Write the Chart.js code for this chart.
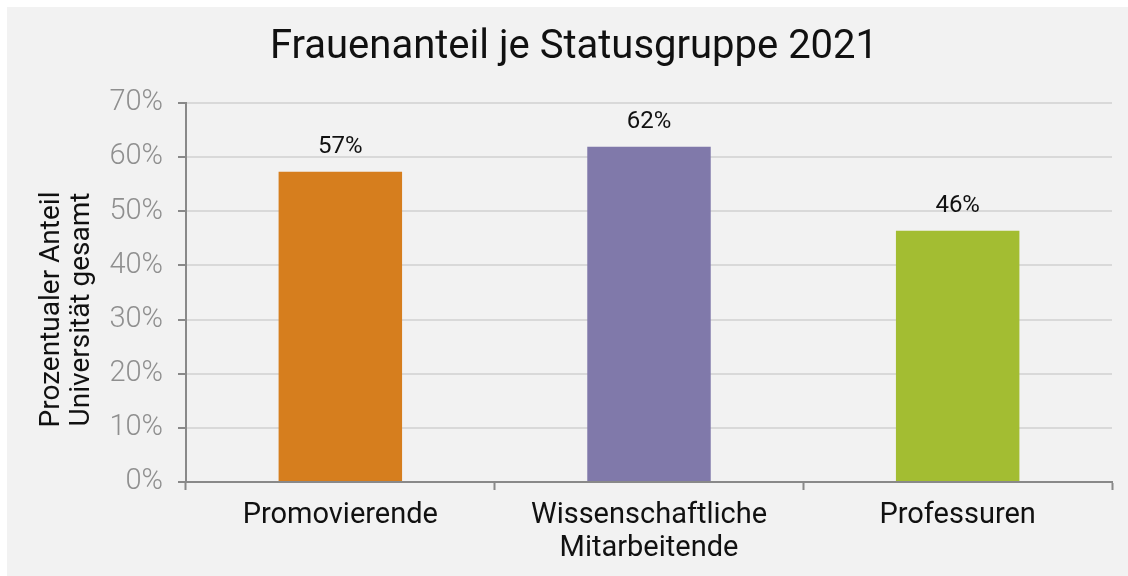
<!DOCTYPE html>
<html>
<head>
<meta charset="utf-8">
<script src="https://cdn.jsdelivr.net/npm/chart.js@4"></script>
<style>
  body { margin: 0; background: #fff; }
  #box { position: absolute; left: 7px; top: 7px; width: 1121px; height: 569px; background: #f2f2f2; }
</style>
</head>
<body>
<div id="box"><canvas id="chart" width="1121" height="569"></canvas></div>
<script>
const categories = ['Promovierende', ['Wissenschaftliche', 'Mitarbeitende'], 'Professuren'];
const values = [57.3, 61.9, 46.4];
const barColors = ['#d67e1e', '#8079aa', '#a3bd32'];
const yTitle = ['Prozentualer Anteil', 'Universität gesamt'];
const chartTitle = 'Frauenanteil je Statusgruppe 2021';

const FONT = 'Roboto, "Noto Sans", sans-serif';

// value labels above the bars
const barLabels = {
  id: 'barLabels',
  afterDatasetsDraw(chart) {
    const ctx = chart.ctx;
    const meta = chart.getDatasetMeta(0);
    ctx.save();
    ctx.font = '24px ' + FONT;
    ctx.fillStyle = '#111';
    ctx.textAlign = 'center';
    ctx.textBaseline = 'alphabetic';
    meta.data.forEach((bar, i) => {
      ctx.fillText(Math.round(values[i]) + '%', bar.x, bar.y - 19);
    });
    ctx.restore();
  }
};

// two-line rotated y axis title
const yAxisTitle = {
  id: 'yAxisTitle',
  afterDraw(chart) {
    const ctx = chart.ctx;
    const area = chart.chartArea;
    const cy = (area.top + area.bottom) / 2 + 17;
    ctx.save();
    ctx.font = '28px ' + FONT;
    ctx.fillStyle = '#111';
    ctx.textAlign = 'center';
    ctx.textBaseline = 'middle';
    ctx.translate(45, cy);
    ctx.rotate(-Math.PI / 2);
    yTitle.forEach((line, i) => ctx.fillText(line, 0, i * 30));
    ctx.restore();
  }
};

new Chart(document.getElementById('chart'), {
  type: 'bar',
  data: {
    labels: categories,
    datasets: [{
      data: values,
      backgroundColor: barColors,
      barPercentage: 0.4,
      categoryPercentage: 1.0
    }]
  },
  options: {
    responsive: false,
    animation: false,
    layout: { padding: { left: 29, right: 16, top: 0, bottom: 0 } },
    plugins: {
      legend: { display: false },
      tooltip: { enabled: false },
      title: {
        display: true,
        text: chartTitle,
        color: '#111',
        font: { family: FONT, size: 40, weight: '400', lineHeight: 1.2 },
        padding: { top: 17, bottom: 31 }
      }
    },
    scales: {
      x: {
        grid: { drawOnChartArea: false, offset: true, tickLength: 8, tickColor: '#898989', tickWidth: 2 },
        border: { color: '#898989', width: 2 },
        ticks: { color: '#111', padding: 9, font: { family: FONT, size: 29, lineHeight: '33px' } },
        afterFit(s) { s.height = 94; }
      },
      y: {
        min: 0,
        max: 70,
        grid: { color: '#d9d9d9', lineWidth: 2, tickLength: 8, tickColor: '#898989', tickWidth: 2 },
        border: { color: '#898989', width: 2 },
        ticks: {
          stepSize: 10,
          padding: 15,
          color: '#8f8f8f',
          font: { family: FONT, size: 29, weight: '300' },
          callback: v => v + '%'
        },
        afterFit(s) { s.width = 150; }
      }
    }
  },
  plugins: [barLabels, yAxisTitle]
});
</script>
</body>
</html>
